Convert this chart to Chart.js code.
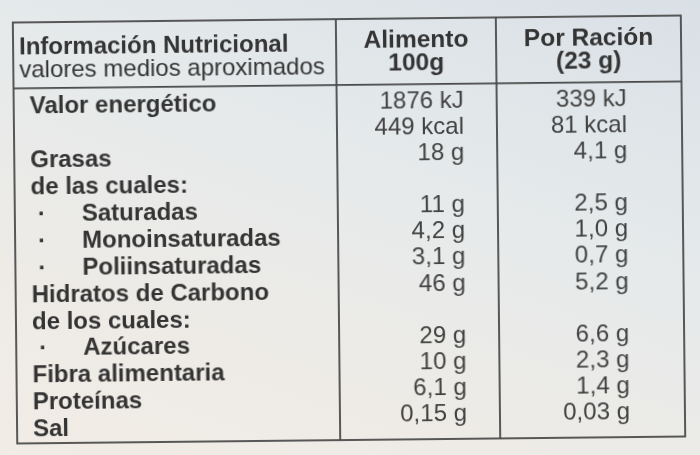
<!DOCTYPE html>
<html lang="es">
<head>
    <meta charset="UTF-8">
    <title>Información Nutricional</title>
    <style>
        html, body {
            margin: 0;
            padding: 0;
        }
        body {
            width: 700px;
            height: 455px;
            overflow: hidden;
            background: linear-gradient(200deg, #d9e0e6 0%, #e6eaeb 40%, #eeebe6 75%, #f1ece5 100%);
        }
        .wrap {
            width: 700px;
            height: 455px;
            transform: rotate(-0.6deg);
        }
    </style>
</head>
<body>
    <div class="wrap">
        <canvas id="tabla"></canvas>
    </div>

    <script src="https://cdn.jsdelivr.net/npm/chart.js"></script>
    <script>
        // datos de la etiqueta
        const columnHeaders = [
            ['Información Nutricional', 'valores medios aproximados'],
            ['Alimento', '100g'],
            ['Por Ración', '(23 g)']
        ];
        const rowLabels = [
            'Valor energético', '', 'Grasas', 'de las cuales:', 'Saturadas',
            'Monoinsaturadas', 'Poliinsaturadas', 'Hidratos de Carbono',
            'de los cuales:', 'Azúcares', 'Fibra alimentaria', 'Proteínas', 'Sal'
        ];
        const subRows = [false, false, false, false, true, true, true, false, false, true, false, false, false];
        const per100g = ['1876 kJ', '449 kcal', '18 g', '', '11 g', '4,2 g', '3,1 g', '46 g', '', '29 g', '10 g', '6,1 g', '0,15 g'];
        const perServing = ['339 kJ', '81 kcal', '4,1 g', '', '2,5 g', '1,0 g', '0,7 g', '5,2 g', '', '6,6 g', '2,3 g', '1,4 g', '0,03 g'];

        // maquetación (unidades del eje x = ancho de la tabla)
        const COL_EDGES = [0, 323, 483, 668];
        const LABEL_X = 16;
        const BULLET_X = 23;
        const INDENT_X = 67;
        const VALUE_X = [450, 613];
        const HEADER_SEP = -0.7;
        const HEADER_ROWS_FIRST = [-2.2, -1.35];
        const HEADER_ROWS_OTHER = [-2.33, -1.46];

        const FONT = '"Liberation Sans", Arial, sans-serif';
        const LINE_COLOR = '#484848';
        const LABEL_COLOR = '#343434';
        const VALUE_COLOR = '#424242';

        function points(texts, xFor) {
            return texts.map((t, i) => ({ x: xFor(i), y: i }));
        }

        const tablePlugin = {
            id: 'tablePlugin',
            afterDraw(chart) {
                const ctx = chart.ctx;
                const area = chart.chartArea;
                const x = chart.scales.x;
                const y = chart.scales.y;

                ctx.save();
                // bordes y divisiones
                ctx.strokeStyle = LINE_COLOR;
                ctx.lineWidth = 1.8;
                ctx.strokeRect(area.left, area.top, area.right - area.left, area.bottom - area.top);
                COL_EDGES.slice(1, -1).forEach(v => {
                    const px = x.getPixelForValue(v);
                    ctx.beginPath();
                    ctx.moveTo(px, area.top);
                    ctx.lineTo(px, area.bottom);
                    ctx.stroke();
                });
                const sepY = y.getPixelForValue(HEADER_SEP);
                ctx.beginPath();
                ctx.moveTo(area.left, sepY);
                ctx.lineTo(area.right, sepY);
                ctx.stroke();

                // cabecera
                ctx.fillStyle = LABEL_COLOR;
                ctx.textBaseline = 'middle';
                ctx.textAlign = 'left';
                ctx.font = 'bold 24px ' + FONT;
                ctx.fillText(columnHeaders[0][0], x.getPixelForValue(6), y.getPixelForValue(HEADER_ROWS_FIRST[0]));
                ctx.font = '24px ' + FONT;
                ctx.fillText(columnHeaders[0][1], x.getPixelForValue(6), y.getPixelForValue(HEADER_ROWS_FIRST[1]));
                ctx.textAlign = 'center';
                ctx.font = 'bold 24.5px ' + FONT;
                for (let c = 1; c < columnHeaders.length; c++) {
                    const cx = x.getPixelForValue((COL_EDGES[c] + COL_EDGES[c + 1]) / 2);
                    columnHeaders[c].forEach((line, k) => {
                        ctx.fillText(line, cx, y.getPixelForValue(HEADER_ROWS_OTHER[k]));
                    });
                }

                // textos de cada fila
                chart.data.datasets.forEach((ds, di) => {
                    const meta = chart.getDatasetMeta(di);
                    ctx.font = ds.font;
                    ctx.fillStyle = ds.textColor;
                    ctx.textAlign = ds.textAlign;
                    meta.data.forEach((el, i) => {
                        const t = ds.texts[i];
                        if (!t) return;
                        ctx.fillText(t, el.x, el.y);
                    });
                    if (ds.bullets) {
                        ctx.textAlign = 'left';
                        meta.data.forEach((el, i) => {
                            if (subRows[i]) ctx.fillText('·', x.getPixelForValue(BULLET_X), el.y);
                        });
                    }
                });
                ctx.restore();
            }
        };

        new Chart(document.getElementById('tabla'), {
            type: 'scatter',
            data: {
                datasets: [
                    {
                        label: 'Nutriente',
                        data: points(rowLabels, i => subRows[i] ? INDENT_X : LABEL_X),
                        texts: rowLabels,
                        bullets: true,
                        font: 'bold 24px ' + FONT,
                        textColor: LABEL_COLOR,
                        textAlign: 'left',
                        yAxisID: 'y'
                    },
                    {
                        label: 'Alimento 100g',
                        data: points(per100g, () => VALUE_X[0]),
                        texts: per100g,
                        font: '24px ' + FONT,
                        textColor: VALUE_COLOR,
                        textAlign: 'right',
                        yAxisID: 'yv'
                    },
                    {
                        label: 'Por Ración (23 g)',
                        data: points(perServing, () => VALUE_X[1]),
                        texts: perServing,
                        font: '24px ' + FONT,
                        textColor: VALUE_COLOR,
                        textAlign: 'right',
                        yAxisID: 'yv'
                    }
                ]
            },
            options: {
                responsive: true,
                maintainAspectRatio: false,
                animation: false,
                events: [],
                layout: {
                    padding: { left: 15, right: 17, top: 19, bottom: 15 }
                },
                elements: {
                    point: { radius: 0, hoverRadius: 0 }
                },
                plugins: {
                    legend: { display: false },
                    tooltip: { enabled: false }
                },
                scales: {
                    x: { type: 'linear', min: 0, max: 668, display: false },
                    y: { type: 'linear', reverse: true, min: -3.15, max: 12.5, display: false },
                    yv: { type: 'linear', reverse: true, min: -3.2, max: 12.95, display: false }
                }
            },
            plugins: [tablePlugin]
        });
    </script>
</body>
</html>
